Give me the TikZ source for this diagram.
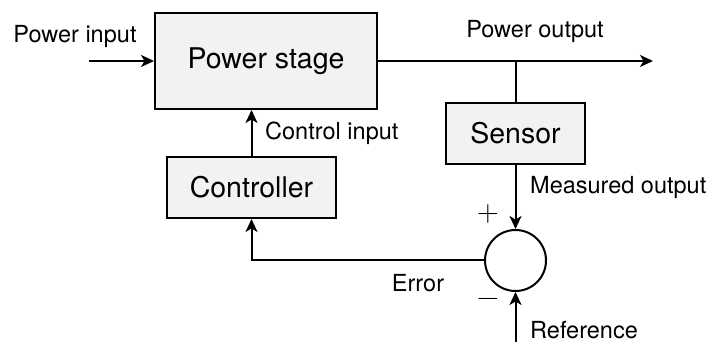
\documentclass[tikz,border=0pt]{standalone}
\usepackage{fontspec}
\setmainfont{TeX Gyre Heros}
\newfontfamily\signfont{Latin Modern Roman}
\usetikzlibrary{arrows.meta, positioning}

\begin{document}
\begin{tikzpicture}[
    x=1pt, y=1pt,
    every node/.style={font=\fontsize{23.5}{28}\selectfont, inner sep=0pt},
    block/.style={draw=black, fill=gray!10, line width=2pt, align=center, font=\fontsize{28.5}{34}\selectfont},
    sumnode/.style={draw=black, circle, line width=2pt, minimum size=61pt},
    sign/.style={font=\signfont\fontsize{30}{36}\selectfont},
    arrow/.style={-{Stealth[length=13pt, width=12pt, inset=3.5pt]}, line width=2pt},
    wire/.style={line width=2pt}
]
    \useasboundingbox (0,0) rectangle (711,342);

    % Blocks
    \node[block, minimum width=222pt, minimum height=96pt] (stage) at (266,281) {Power stage};
    \node[block, minimum width=139pt, minimum height=61pt] (sensor) at (515.5,208.5) {Sensor};
    \node[block, minimum width=169pt, minimum height=61pt] (ctrl) at (251.5,154.5) {Controller};
    \node[sumnode, below=64pt of sensor] (sum) {};

    % Free ends
    \coordinate (pin) at (89,281);
    \coordinate (pout) at (653,281);
    \coordinate (ref) at (515.5,0);

    % Connectors
    \draw[arrow] (pin) -- (stage.west);
    \draw[arrow] (stage.east) -- (pout);
    \draw[wire] (sensor.north |- stage.east) -- (sensor.north);
    \draw[arrow] (sensor.south) -- (sum.north);
    \draw[arrow] (ref) -- (sum.south);
    \draw[arrow] (sum.west) -| (ctrl.south);
    \draw[arrow] (ctrl.north) -- (ctrl.north |- stage.south);

    % Labels
    \node (lpin) at (75,305) {Power input};
    \node (lpout) at (535,310) {Power output};
    \node[anchor=west] (lctrl) at (265,209) {Control input};
    \node[anchor=west] (lmeas) at (530,155) {Measured output};
    \node (lerr) at (418,59) {Error};
    \node[anchor=west] (lref) at (530,12) {Reference};
    \node[sign] (lplus) at (488,128) {+};
    \node[sign] (lminus) at (488,40) {−};

\end{tikzpicture}
\end{document}
